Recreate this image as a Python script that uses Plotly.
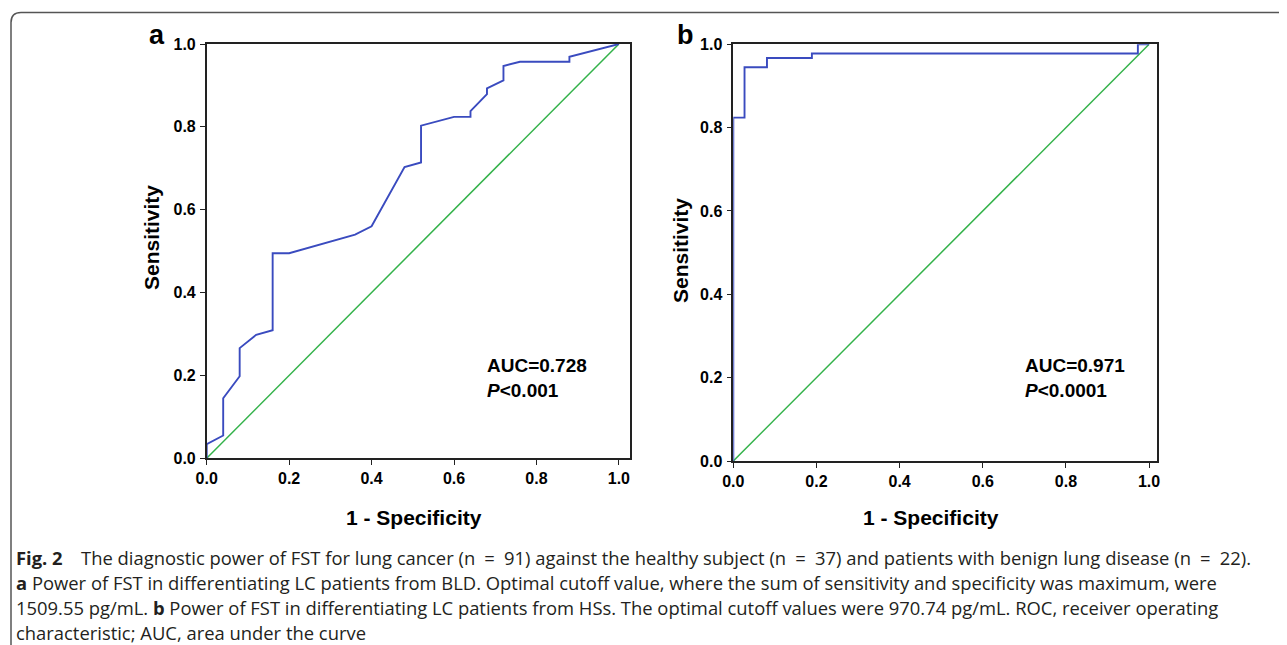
import plotly.graph_objects as go

# ---- data ----
fpr_a = [0.0, 0.0, 0.04, 0.04, 0.08, 0.08, 0.12, 0.16, 0.16, 0.20, 0.36, 0.40, 0.48, 0.52, 0.52,
         0.60, 0.64, 0.64, 0.68, 0.68, 0.72, 0.72, 0.76, 0.88, 0.88, 1.0]
tpr_a = [0.0, 0.034, 0.055, 0.145, 0.198, 0.266, 0.298, 0.309, 0.495, 0.495, 0.54, 0.56, 0.703, 0.714, 0.803,
         0.824, 0.824, 0.838, 0.879, 0.893, 0.912, 0.947, 0.957, 0.957, 0.969, 1.0]

fpr_b = [0.0, 0.0, 0.027, 0.027, 0.081, 0.081, 0.189, 0.189, 0.973, 0.973, 1.0]
tpr_b = [0.0, 0.824, 0.824, 0.945, 0.945, 0.967, 0.967, 0.978, 0.978, 1.0, 1.0]

ref_line = [0.0, 1.0]
tick_vals = [0.0, 0.2, 0.4, 0.6, 0.8, 1.0]
tick_text = ["0.0", "0.2", "0.4", "0.6", "0.8", "1.0"]

auc_text = ["AUC=0.728<br><i>P</i><0.001", "AUC=0.971<br><i>P</i><0.0001"]
caption = [
    "<b>Fig. 2</b>\u2003The diagnostic power of FST for lung cancer (n\u2002=\u200291) against the healthy subject (n\u2002=\u200237) and patients with benign lung disease (n\u2002=\u200222).",
    "<b>a</b> Power of FST in differentiating LC patients from BLD. Optimal cutoff value, where the sum of sensitivity and specificity was maximum, were",
    "1509.55 pg/mL. <b>b</b> Power of FST in differentiating LC patients from HSs. The optimal cutoff values were 970.74 pg/mL. ROC, receiver operating",
    "characteristic; AUC, area under the curve",
]

W, H = 1287, 645
OFF = 8  # default page (body) margin offset
BLUE = "#3a4bbf"
GREEN = "#33b24a"


def px(x):
    return (x - OFF) / W


def py(y):
    return 1 - (y - OFF) / H


fig = go.Figure()
fig.add_trace(go.Scatter(x=ref_line, y=ref_line, mode="lines", line=dict(color=GREEN, width=1.5),
                         xaxis="x", yaxis="y", showlegend=False, hoverinfo="skip"))
fig.add_trace(go.Scatter(x=fpr_a, y=tpr_a, mode="lines", line=dict(color=BLUE, width=1.9),
                         xaxis="x", yaxis="y", showlegend=False))
fig.add_trace(go.Scatter(x=ref_line, y=ref_line, mode="lines", line=dict(color=GREEN, width=1.5),
                         xaxis="x2", yaxis="y2", showlegend=False, hoverinfo="skip"))
fig.add_trace(go.Scatter(x=fpr_b, y=tpr_b, mode="lines", line=dict(color=BLUE, width=1.9),
                         xaxis="x2", yaxis="y2", showlegend=False))

tickfont = dict(family="Liberation Sans, Arial", size=16, color="black", weight="bold")
axis_common = dict(showgrid=False, zeroline=False, showline=True, linecolor="#222", linewidth=1.5,
                   mirror=True, ticks="outside", ticklen=5, tickwidth=1.3, tickcolor="#222",
                   tickvals=tick_vals, ticktext=tick_text, tickfont=tickfont, automargin=False)

fig.update_layout(
    width=W, height=H,
    margin=dict(l=0, r=0, t=0, b=0, pad=0),
    paper_bgcolor="white", plot_bgcolor="white",
    xaxis=dict(domain=[px(206.7), px(630)], range=[0, 1.027], anchor="y", **axis_common),
    yaxis=dict(domain=[py(458.3), py(44)], range=[0, 1], anchor="x", ticklabelstandoff=1, **axis_common),
    xaxis2=dict(domain=[px(733.3), px(1157)], range=[0, 1.019], anchor="y2", **axis_common),
    yaxis2=dict(domain=[py(461), py(44.3)], range=[0, 1], anchor="x2", ticklabelstandoff=1, **axis_common),
)

bold_title = dict(family="Liberation Sans, Arial", size=21, color="black", weight="bold")
ann = []
# panel letters
ann.append(dict(x=px(157), y=py(35), text="<b>a</b>", font=dict(family="Liberation Sans, Arial", size=27, color="black")))
ann.append(dict(x=px(685), y=py(35), text="<b>b</b>", font=dict(family="Liberation Sans, Arial", size=27, color="black")))
# axis titles
ann.append(dict(x=px(414), y=py(517), text="1 - Specificity", font=bold_title))
ann.append(dict(x=px(931), y=py(517), text="1 - Specificity", font=bold_title))
ann.append(dict(x=px(152), y=py(238), text="Sensitivity", textangle=-90,
                font=dict(family="Liberation Sans, Arial", size=21, color="black", weight="bold")))
ann.append(dict(x=px(680), y=py(251), text="Sensitivity", textangle=-90,
                font=dict(family="Liberation Sans, Arial", size=21, color="black", weight="bold")))
# AUC text
auc_font = dict(family="Liberation Sans, Arial", size=19, color="black", weight="bold")
ann.append(dict(x=px(485), y=py(378), text=auc_text[0], font=auc_font, xanchor="left", align="left"))
ann.append(dict(x=px(1023), y=py(378), text=auc_text[1], font=auc_font, xanchor="left", align="left"))
# caption
cap_font = dict(family="Open Sans", size=18.4, color="#231f20")
for i, line in enumerate(caption):
    ann.append(dict(x=px(14), y=py(557 + 25 * i), text=line, font=cap_font, xanchor="left", align="left"))

for a in ann:
    a.setdefault("xanchor", "center")
    a.update(xref="paper", yref="paper", showarrow=False, yanchor="middle")
fig.update_layout(annotations=ann)

# rounded border of the figure panel
x0, y0, r = 11, 12.5, 10
path = (f"M {px(W + 20)},{py(y0)} L {px(x0 + r)},{py(y0)} "
        f"Q {px(x0)},{py(y0)} {px(x0)},{py(y0 + r)} L {px(x0)},{py(H + 20)}")
fig.add_shape(type="path", path=path, xref="paper", yref="paper",
              line=dict(color="#555", width=1.5))

fig.write_html("out.html")
